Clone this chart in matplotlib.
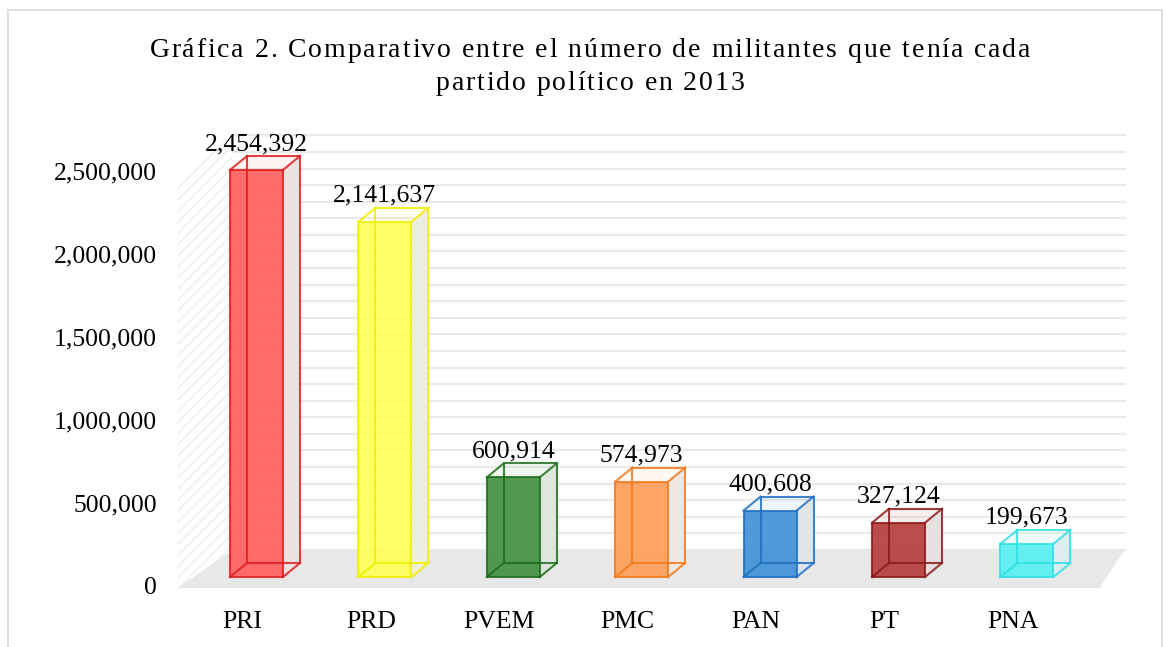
import matplotlib.pyplot as plt
from matplotlib.patches import Polygon
from matplotlib.transforms import ScaledTranslation
from matplotlib.ticker import FuncFormatter
from matplotlib.font_manager import FontProperties, findfont
from matplotlib.ft2font import FT2Font

plt.rcParams['font.family'] = ['Liberation Serif', 'DejaVu Serif']
plt.rcParams['hatch.linewidth'] = 1.2

# data
partidos = ["PRI", "PRD", "PVEM", "PMC", "PAN", "PT", "PNA"]
militantes = [2454392, 2141637, 600914, 574973, 400608, 327124, 199673]
caras = ["#ff5c5c", "#ffff55", "#3f8f3f", "#ff9d55", "#3d8fd6", "#b53a3a", "#55f0f0"]
bordes = ["#e01e1e", "#f0f000", "#1e6e1e", "#f07a20", "#2070c0", "#8c1a1a", "#30e0e8"]
titulo = ["Gráfica 2. Comparativo entre el número de militantes que tenía cada",
          "partido político en 2013"]

W, H = 1167, 647

# pixel geometry of the pseudo 3d scene
PX_X = 1 / 128.4     # category units per pixel
PX_Y = 6030          # value units per pixel
bar_w = 53 * PX_X
bar_dx, bar_dy = 17 * PX_X, 14 * PX_Y
wall_x0, wall_x1 = -24 * PX_X, 868 * PX_X
wall_y0 = 27 * PX_Y
floor_front = (-79 * PX_X, 843 * PX_X, -11 * PX_Y)

fig = plt.figure(figsize=(W / 100, H / 100), dpi=100)
ax = fig.add_axes([170 / W, 47 / H, 970 / W, 480 / H])
ax.set_xlim(-86.5 * PX_X, 883.5 * PX_X)
ax.set_ylim(-23 * PX_Y, 457 * PX_Y)

# back wall gridlines (every 100,000)
for k in range(26):
    ax.plot([wall_x0, wall_x1], [wall_y0 + k * 100000] * 2, color="#eaeaea", lw=1.6, zorder=1)

# floor
fx0, fx1, fy = floor_front
ax.add_patch(Polygon([(fx0, fy), (fx1, fy), (wall_x1, wall_y0), (wall_x0, wall_y0)],
                     closed=True, facecolor="#e8e8e8", edgecolor="none", zorder=2))
# left wall (hatched)
ax.add_patch(Polygon([(fx0, fy), (wall_x0, wall_y0), (wall_x0, wall_y0 + 2500000),
                      (fx0, 2500000 - 20 * PX_Y)],
                     closed=True, facecolor="none", edgecolor="#efefef", hatch="///",
                     lw=0, zorder=2))

# bars as wireframe boxes
for i, (v, fc, ec) in enumerate(zip(militantes, caras, bordes)):
    x0, x1 = i - bar_w / 2, i + bar_w / 2
    dx, dy = bar_dx, bar_dy
    side = [(x1, 0), (x1 + dx, dy), (x1 + dx, v + dy), (x1, v)]
    ax.add_patch(Polygon(side, facecolor="#ffffff", edgecolor="none", zorder=3))
    ax.add_patch(Polygon(side, facecolor=fc, alpha=0.12, edgecolor="none", zorder=3))
    ax.add_patch(Polygon(side, facecolor="#d8d8d8", alpha=0.45, edgecolor="none", zorder=3))
    ax.add_patch(Polygon([(x0, v), (x1, v), (x1 + dx, v + dy), (x0 + dx, v + dy)],
                         facecolor=fc, alpha=0.08, edgecolor="none", zorder=3))
    ax.add_patch(Polygon([(x0, 0), (x1, 0), (x1, v), (x0, v)],
                         facecolor=fc, alpha=0.9, edgecolor="none", zorder=4))
    edges = [
        [(x0, 0), (x1, 0), (x1, v), (x0, v), (x0, 0)],
        [(x0 + dx, dy), (x1 + dx, dy), (x1 + dx, v + dy), (x0 + dx, v + dy), (x0 + dx, dy)],
        [(x0, 0), (x0 + dx, dy)], [(x1, 0), (x1 + dx, dy)],
        [(x1, v), (x1 + dx, v + dy)], [(x0, v), (x0 + dx, v + dy)],
    ]
    for e in edges:
        xs, ys = zip(*e)
        ax.plot(xs, ys, color=ec, lw=1.5, alpha=0.85, zorder=5, solid_joinstyle="miter")
    ax.text(i, v + dy + 1 * PX_Y, f"{v:,}", ha="center", va="bottom", fontsize=18.5, zorder=6)

# axes
ax.set_yticks(range(0, 2500001, 500000))
ax.yaxis.set_major_formatter(FuncFormatter(lambda y, _: f"{int(y):,}"))
ax.set_xticks(range(len(partidos)))
ax.set_xticklabels(partidos)
ax.tick_params(axis="y", length=0, pad=9.5, labelsize=18.5)
ax.tick_params(axis="x", length=0, pad=8, labelsize=18.5)
for lab in ax.get_yticklabels():
    lab.set_transform(lab.get_transform() + ScaledTranslation(0, -9 / 100, fig.dpi_scale_trans))
for lab in ax.get_xticklabels():
    lab.set_transform(lab.get_transform() + ScaledTranslation(-14 / 100, 0, fig.dpi_scale_trans))
for s in ax.spines.values():
    s.set_visible(False)
ax.patch.set_visible(False)


# title with letter spacing (tracking)
def spaced_line(text, cx, baseline, size, track):
    prop = FontProperties(family="Liberation Serif", size=size)
    font = FT2Font(findfont(prop))
    font.set_size(size, 100)
    adv = [font.load_char(ord(c)).linearHoriAdvance / 65536 for c in text]
    total = sum(adv) + track * (len(text) - 1)
    x = cx - total / 2
    for c, a in zip(text, adv):
        fig.text(x / W, 1 - baseline / H, c, fontproperties=prop, ha="left", va="baseline")
        x += a + track


spaced_line(titulo[0], 590, 57, 20, 1.85)
spaced_line(titulo[1], 590, 90, 20, 1.85)

# chart frame
frame = plt.Rectangle((8 / W, -0.01), 1154 / W, 1 - 10 / H + 0.01,
                      transform=fig.transFigure, fill=False, edgecolor="#d9d9d9", lw=1.2)
fig.patches.append(frame)

fig.savefig("out.png", dpi=100)
